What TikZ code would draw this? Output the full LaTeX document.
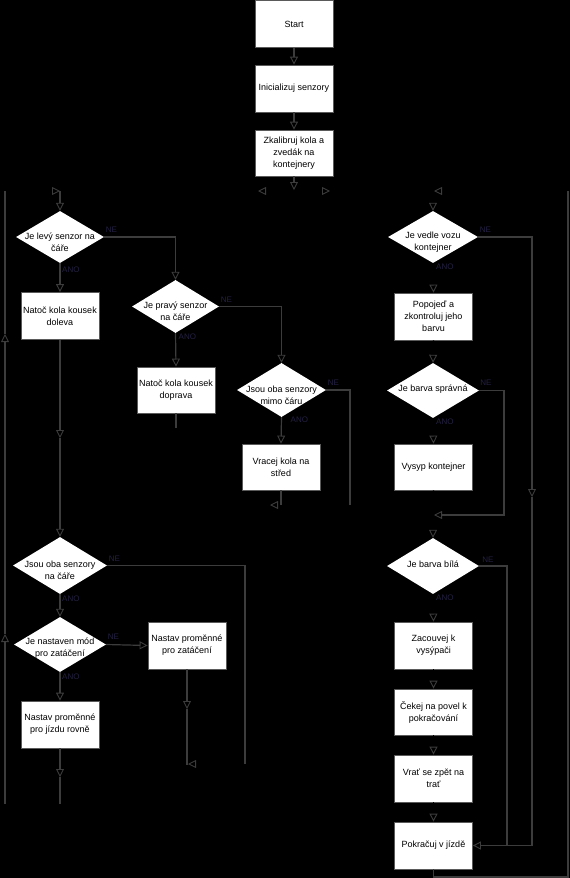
\documentclass[tikz,border=0pt]{standalone}
\usepackage{fontspec}
\setmainfont{Liberation Sans}
\usetikzlibrary{shapes.geometric,arrows.meta,calc}
\definecolor{lg}{RGB}{60,60,60}
\definecolor{bordc}{RGB}{90,90,90}
\definecolor{labc}{RGB}{36,32,66}
\begin{document}
\begin{tikzpicture}[x=1pt,y=-1pt,
  box/.style={rectangle, fill=white, draw=bordc, line width=0.8pt, minimum width=78pt, minimum height=47pt, inner sep=0pt, align=center, font=\fontsize{9}{12}\selectfont},
  dia/.style={diamond, fill=white, draw=none, inner sep=0pt},
  dtxt/.style={align=center, font=\fontsize{9}{12}\selectfont, inner sep=0pt},
  ln/.style={draw=lg, line width=1.2pt},
  hid/.style={draw=black, line width=1.2pt},
  arr/.style={-{Triangle[length=8pt,width=8pt,line width=0.9pt,color=lg,fill=black]}},
  lab/.style={font=\fontsize{8}{9}\selectfont, text=labc, inner sep=0pt, anchor=base west},
]
\fill[black] (0,0) rectangle (570,878);
\useasboundingbox (0,0) rectangle (570,878);

% ---------- nodes ----------
\node[box] (start) at (294,24) {Start};
\node[box] (init) at (294,88.5) {Inicializuj senzory};
\node[box,minimum height=46pt] (kal) at (294,153) {Zkalibruj kola a\\zvedák na\\kontejnery};

\node[dia,minimum width=88pt,minimum height=52pt] (dl) at (60,237) {};
\node[dtxt] (dlt) at ($(dl)+(0,5.5)$) {Je levý senzor na\\čáře};
\node[box] (bl) at (60,316) {Natoč kola kousek\\doleva};

\node[dia,minimum width=87pt,minimum height=53pt] (dp) at (175.5,306.5) {};
\node[dtxt] (dpt) at ($(dp)+(0,5)$) {Je pravý senzor\\na čáře};
\node[box,minimum height=46pt] (br) at (176,390) {Natoč kola kousek\\doprava};

\node[dia,minimum width=89pt,minimum height=54pt] (dm) at (281.5,390) {};
\node[dtxt] (dmt) at ($(dm)+(0,5)$) {Jsou oba senzory\\mimo čáru};
\node[box,minimum height=46pt] (bs) at (281,467) {Vracej kola na\\střed};

\node[dia,minimum width=94pt,minimum height=57pt] (d2) at (60,565.5) {};
\node[dtxt] (d2t) at ($(d2)+(0,5)$) {Jsou oba senzory\\na čáře};

\node[dia,minimum width=92pt,minimum height=55pt] (d3) at (60,644.5) {};
\node[dtxt] (d3t) at ($(d3)+(0,4)$) {Je nastaven mód\\pro zatáčení};
\node[box] (bz) at (187,645.5) {Nastav proměnné\\pro zatáčení};
\node[box] (brv) at (60,724.5) {Nastav proměnné\\pro jízdu rovně};

\node[dia,minimum width=90pt,minimum height=52pt] (dv) at (433,237) {};
\node[dtxt] (dvt) at ($(dv)+(0,5.5)$) {Je vedle vozu\\kontejner};
\node[box] (bp) at (433.5,316.5) {Popojeď a\\zkontroluj jeho\\barvu};

\node[dia,minimum width=92pt,minimum height=55pt] (ds) at (433,390.5) {};
\node[dtxt] (dst) at ($(ds)+(0,-1)$) {Je barva správná};
\node[box,minimum height=46pt] (bv) at (433.5,467) {Vysyp kontejner};

\node[dia,minimum width=92pt,minimum height=56pt] (db) at (433,566) {};
\node[dtxt] (dbt) at ($(db)+(0,-1.5)$) {Je barva bílá};
\node[box] (bzc) at (433.5,645.5) {Zacouvej k\\vysýpači};
\node[box,minimum height=46pt] (bc) at (433.5,712) {Čekej na povel k\\pokračování};
\node[box] (bvr) at (433.5,778.5) {Vrať se zpět na\\trať};
\node[box] (bpk) at (433.5,845.5) {Pokračuj v jízdě};

% ---------- junction coordinates ----------
\coordinate (jt) at (294,191);
\coordinate (jl) at (5,191);
\coordinate (jlb) at (5,804);
\coordinate (jr) at (568,191);

% ---------- hidden (black) connector parts with visible tips ----------
\draw[hid,arr] (jt) -- (258,191);
\draw[hid,arr] (jt) -- (330,191);
\draw[hid,arr] (jl) -- (60,191);
\draw[hid] (60,804) -- (jlb);
\draw[hid,arr] (jr) -- (434,191);
\draw[hid,arr] (433,191) -- (dv.north);
\draw[hid,arr] (dv.south) -- (bp.north);
\draw[hid,arr] (bp.south) -- (ds.north);
\draw[hid,arr] (ds.south) -- (bv.north);
\draw[hid,arr] (bv.south) -- (db.north);
\draw[hid,arr] (db.south) -- (bzc.north);
\draw[hid,arr] (bzc.south) -- (bc.north);
\draw[hid,arr] (bc.south) -- (bvr.north);
\draw[hid,arr] (bvr.south) -- (bpk.north);
\draw[hid,arr] (281,505) -- (270,505);
\draw[hid,arr] (245,764) -- (188,764);

% ---------- visible connectors ----------
\draw[ln,arr] (start.south) -- (init.north);
\draw[ln,arr] (init.south) -- (kal.north);
\draw[ln,arr] (kal.south) -- (294,190);

\draw[ln,arr] (60,191) -- (dl.north);
\draw[ln,arr] (dl.east) -| (dp.north);
\draw[ln,arr] (dl.south) -- (bl.north);
\draw[ln,arr] (bl.south) -- (60,438);
\draw[ln,arr] (60,438) -- (d2.north);

\draw[ln,arr] (dp.east) -| (dm.north);
\draw[ln,arr] (dp.south) -- (br.north);
\draw[ln] (br.south) -- (176,428);

\draw[ln] (dm.east) -| (350,505);
\draw[ln,arr] (dm.south) -- (bs.north);
\draw[ln] (bs.south) -- (281,505);

\draw[ln] (d2.east) -| (245,764);
\draw[ln,arr] (d2.south) -- (d3.north);
\draw[ln,arr] (d3.east) -- (bz.west);
\draw[ln,arr] (d3.south) -- (brv.north);
\draw[ln,arr] (bz.south) -- (187,709);
\draw[ln] (187,709) -- (187,765);
\draw[ln,arr] (brv.south) -- (60,777);
\draw[ln] (60,777) -- (60,804);

\draw[ln,arr] (jlb) -- (5,634);
\draw[ln,arr] (5,634) -- (5,334);
\draw[ln] (5,334) -- (jl);

\draw[ln,arr] (dv.east) -| (532,497);
\draw[ln,arr] (532,497) |- (bpk.east);
\draw[ln,arr] (ds.east) -| (504,515) -- (434,515);
\draw[ln] (db.east) -| (507,845.5);
\draw[ln] (bpk.south) -- (433.5,877) -- (568,877) -- (jr);

% ---------- labels ----------
\node[lab] (ne1) at ($(dl.east)+(1.5,-4.5)$) {NE};
\node[lab] (ano1) at ($(dl.south)+(2,9.5)$) {ANO};
\node[lab] (ne2) at ($(dp.east)+(1.5,-4.5)$) {NE};
\node[lab] (ano2) at ($(dp.south)+(3,6)$) {ANO};
\node[lab] (ne3) at ($(dm.east)+(1.5,-4.5)$) {NE};
\node[lab] (ano3) at ($(dm.south)+(9,5.5)$) {ANO};
\node[lab] (ne4) at ($(d2.east)+(1.5,-4)$) {NE};
\node[lab] (ano4) at ($(d2.south)+(2,7)$) {ANO};
\node[lab] (ne5) at ($(d3.east)+(1.5,-5)$) {NE};
\node[lab] (ano5) at ($(d3.south)+(2,7)$) {ANO};
\node[lab] (ne6) at ($(dv.east)+(1.5,-4.5)$) {NE};
\node[lab] (ano6) at ($(dv.south)+(3,6)$) {ANO};
\node[lab] (ne7) at ($(ds.east)+(1,-5)$) {NE};
\node[lab] (ano7) at ($(ds.south)+(3,6)$) {ANO};
\node[lab] (ne8) at ($(db.east)+(3,-4)$) {NE};
\node[lab] (ano8) at ($(db.south)+(3,6)$) {ANO};
\end{tikzpicture}
\end{document}
